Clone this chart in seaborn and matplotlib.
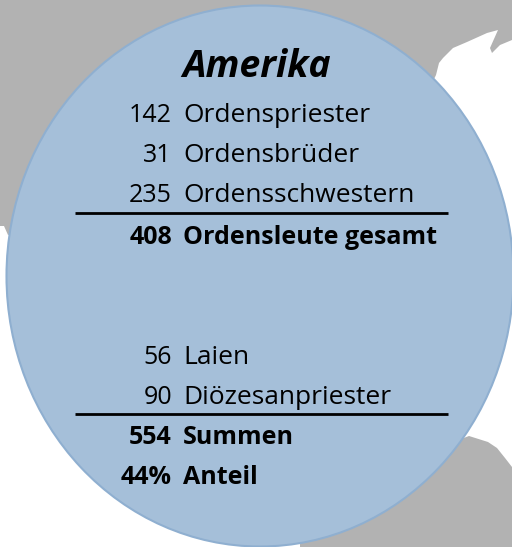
import pandas as pd
import seaborn as sns
import matplotlib.pyplot as plt
from matplotlib.patches import Ellipse

title = "Amerika"
values = ["142", "31", "235", "408", "56", "90", "554", "44%"]
labels = [
    "Ordenspriester",
    "Ordensbrüder",
    "Ordensschwestern",
    "Ordensleute gesamt",
    "Laien",
    "Diözesanpriester",
    "Summen",
    "Anteil",
]
bold = [False, False, False, True, False, False, True, True]
row_y = [115, 156, 196, 237, 358, 397, 437, 478]
rule_y = [213, 414]

# grey map pieces behind the circle
map_top_x = [0, 512, 512, 500, 492, 490, 498, 487, 467, 453, 443, 439, 436, 400, 8, 4, 0]
map_top_y = [0, 0, 40, 45, 53, 48, 30, 33, 42, 48, 58, 63, 75, 150, 235, 226, 226]
map_bottom_x = [300, 469, 488, 497, 505, 512, 512, 300]
map_bottom_y = [500, 436, 442, 448, 458, 467, 547, 547]

table = pd.DataFrame({"value": values, "label": labels, "bold": bold, "y": row_y})

sns.set_theme(style="white")
plt.rcParams["font.family"] = ["Open Sans", "DejaVu Sans"]

fig, ax = plt.subplots(figsize=(5.12, 5.47), dpi=100)
ax.set_position([0, 0, 1, 1])
ax.set_xlim(0, 512)
ax.set_ylim(547, 0)
ax.axis("off")

ax.fill(map_top_x, map_top_y, color="#B2B2B2", lw=0)
ax.fill(map_bottom_x, map_bottom_y, color="#B2B2B2", lw=0)
ax.add_patch(Ellipse((260, 276), 507, 541, fc="#A5BFD9", ec="#8FAFD0", lw=1.5))

ax.text(257, 67, title, fontsize=27, fontweight="bold", fontstyle="italic",
        ha="center", va="center", color="black")

for _, row in table.iterrows():
    weight = "bold" if row["bold"] else "normal"
    label_size = 18 if row["bold"] else 19
    ax.text(172, row["y"], row["value"], fontsize=18, fontweight=weight,
            ha="right", va="center", color="black")
    ax.text(183, row["y"], row["label"], fontsize=label_size, fontweight=weight,
            ha="left", va="center", color="black")

ax.hlines(rule_y, 75, 448, color="black", lw=2)

fig.savefig("out.png", dpi=100)
